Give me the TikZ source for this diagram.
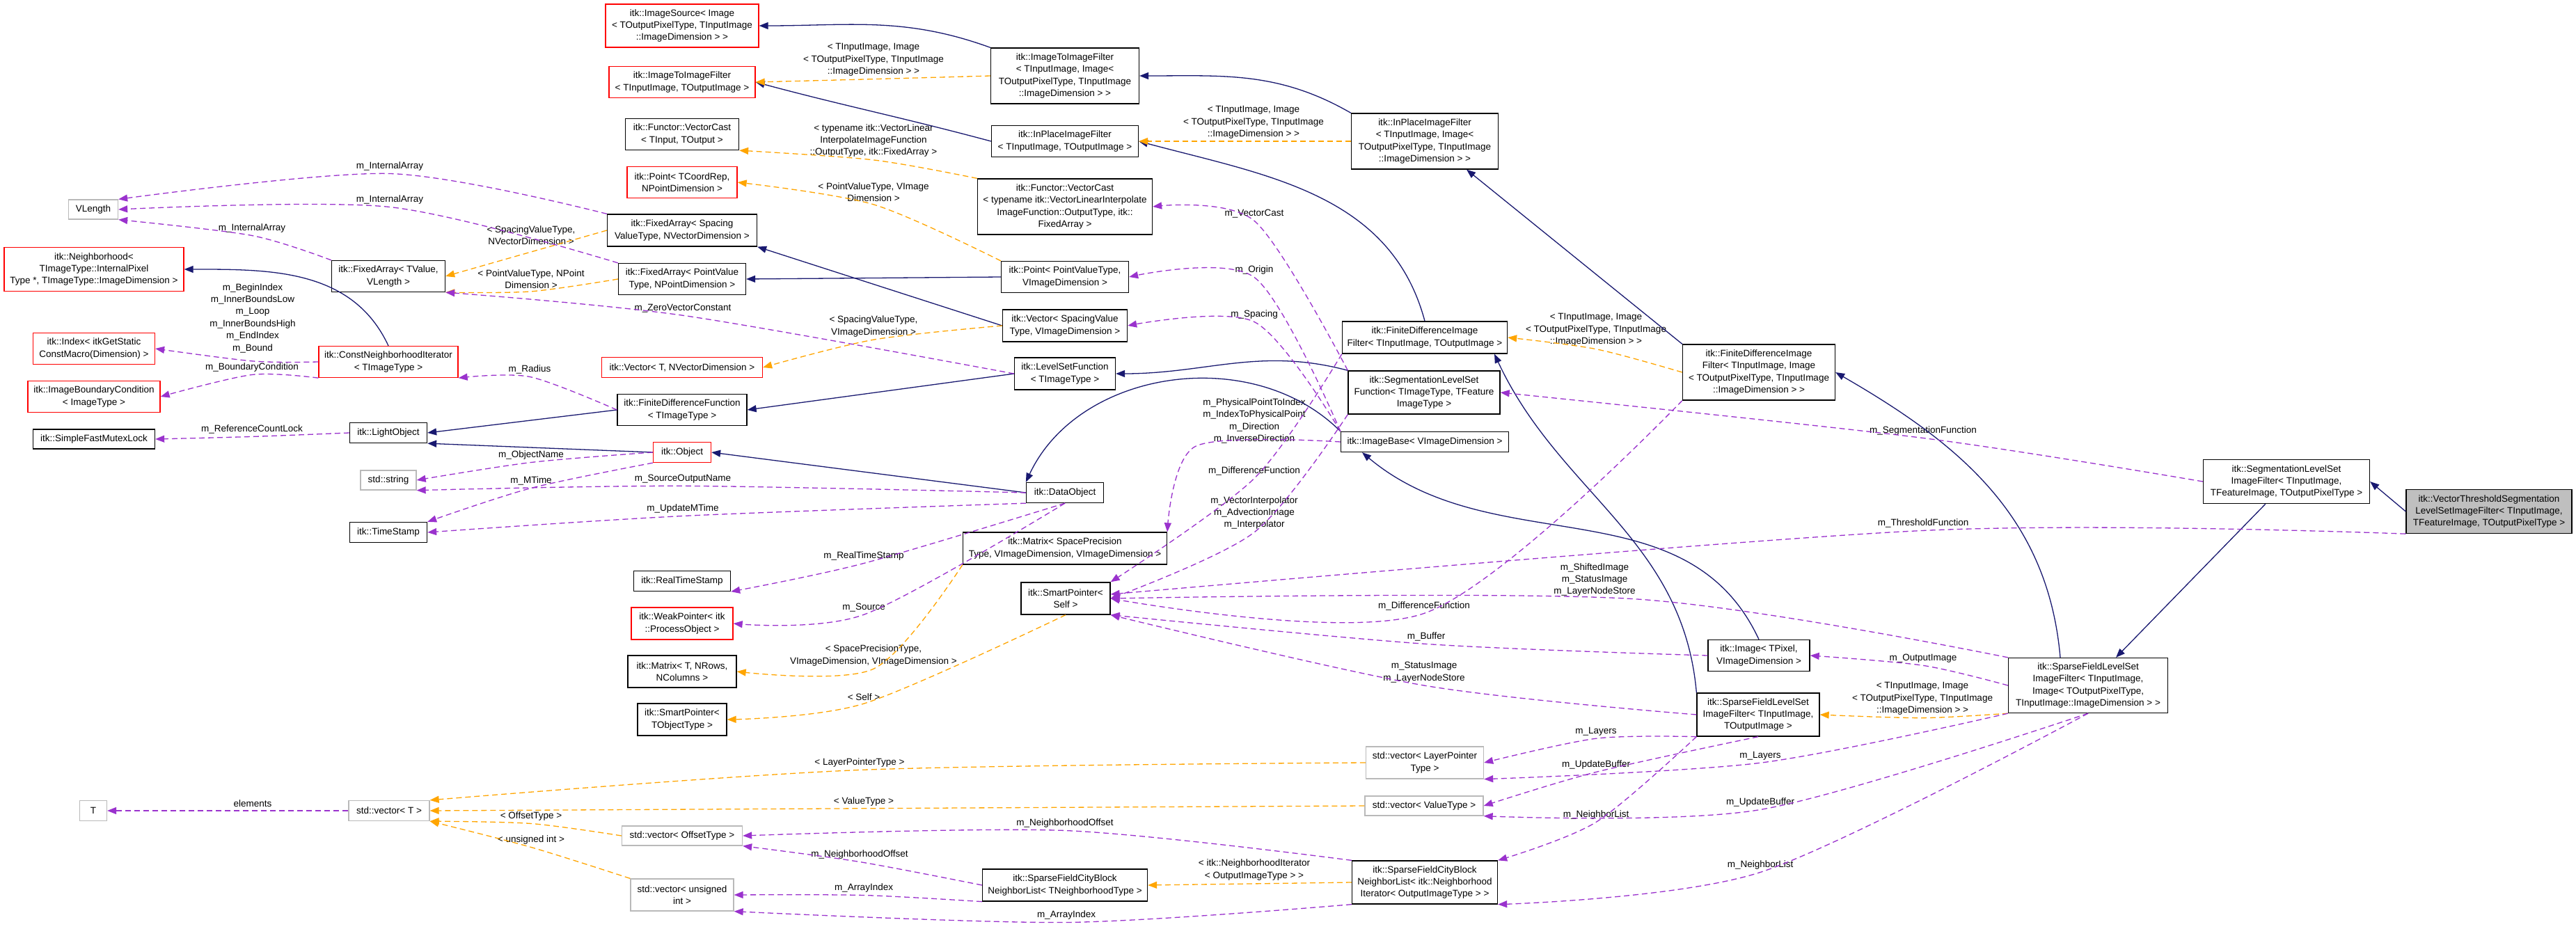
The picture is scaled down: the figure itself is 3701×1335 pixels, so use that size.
\documentclass[tikz,border=0pt]{standalone}
\usepackage{fontspec}
\setmainfont{Liberation Sans}
\usetikzlibrary{arrows.meta,calc}
\definecolor{navy}{RGB}{25,25,112}
\definecolor{orng}{RGB}{255,165,0}
\definecolor{purp}{RGB}{154,50,205}
\begin{document}
\begin{tikzpicture}[x=1pt,y=-1pt,
  box/.style={draw=black,line width=1.3pt,fill=white,align=center,inner sep=3pt,font=\fontsize{13.5}{17.4}\selectfont},
  rbox/.style={box,draw=red},
  gbox/.style={box,draw=gray!55},
  lbl/.style={align=center,inner xsep=1pt,inner ysep=4pt,font=\fontsize{13.5}{17.4}\selectfont},
  tip/.style={-{Triangle[length=13pt,width=10pt]}},
  inh/.style={tip,draw=navy,line width=1.3pt},
  tpl/.style={tip,draw=orng,line width=1.3pt,dash pattern=on 8pt off 5pt},
  use/.style={tip,draw=purp,line width=1.3pt,dash pattern=on 8pt off 5pt}]
\fill[white] (0,0) rectangle (3701,1335);
% nodes
\node[rbox,minimum width=220,minimum height=62] (isrc) at (980,37) {itk::ImageSource< Image\\< TOutputPixelType, TInputImage\\::ImageDimension > >};
\node[rbox,minimum width=210,minimum height=45] (i2i) at (980,118) {itk::ImageToImageFilter\\< TInputImage, TOutputImage >};
\node[box,minimum width=163,minimum height=45] (vc1) at (980,193) {itk::Functor::VectorCast\\< TInput, TOutput >};
\node[rbox,minimum width=158,minimum height=45] (pt1) at (980,262) {itk::Point< TCoordRep,\\NPointDimension >};
\node[gbox,minimum width=71,minimum height=28] (vlen) at (134,301) {VLength};
\node[box,minimum width=215,minimum height=46] (fas) at (980,331) {itk::FixedArray< Spacing\\ValueType, NVectorDimension >};
\node[rbox,minimum width=258,minimum height=63] (nbh) at (135,387) {itk::Neighborhood<\\TImageType::InternalPixel\\Type *, TImageType::ImageDimension >};
\node[box,minimum width=163,minimum height=45] (fat) at (558,397) {itk::FixedArray< TValue,\\VLength >};
\node[box,minimum width=183,minimum height=45] (fap) at (980,401) {itk::FixedArray< PointValue\\Type, NPointDimension >};
\node[rbox,minimum width=175,minimum height=45] (idx) at (135,501) {itk::Index< itkGetStatic\\ConstMacro(Dimension) >};
\node[rbox,minimum width=200,minimum height=45] (cni) at (558,520) {itk::ConstNeighborhoodIterator\\< TImageType >};
\node[rbox,minimum width=231,minimum height=29] (vec1) at (980,528) {itk::Vector< T, NVectorDimension >};
\node[rbox,minimum width=190,minimum height=45] (ibc) at (135,570) {itk::ImageBoundaryCondition\\< ImageType >};
\node[box,minimum width=186,minimum height=45] (fdf) at (980,589) {itk::FiniteDifferenceFunction\\< TImageType >};
\node[box,minimum width=175,minimum height=28] (sfm) at (135,631) {itk::SimpleFastMutexLock};
\node[box,minimum width=111,minimum height=29] (lo) at (558,622) {itk::LightObject};
\node[rbox,minimum width=83,minimum height=29] (obj) at (980,650) {itk::Object};
\node[gbox,minimum width=80,minimum height=28] (str) at (558,690) {std::string};
\node[box,minimum width=111,minimum height=29] (ts) at (558,765) {itk::TimeStamp};
\node[box,minimum width=139,minimum height=29] (rts) at (980,835) {itk::RealTimeStamp};
\node[rbox,minimum width=146,minimum height=46] (wp) at (980,896) {itk::WeakPointer< itk\\::ProcessObject >};
\node[box,minimum width=156,minimum height=46] (mat1) at (980,965) {itk::Matrix< T, NRows,\\NColumns >};
\node[box,minimum width=128,minimum height=46] (sp1) at (980,1034) {itk::SmartPointer<\\TObjectType >};
\node[gbox,minimum width=39,minimum height=29] (T) at (134,1165) {T};
\node[gbox,minimum width=116,minimum height=29] (vT) at (559,1165) {std::vector< T >};
\node[gbox,minimum width=173,minimum height=28] (vOff) at (980,1201) {std::vector< OffsetType >};
\node[gbox,minimum width=148,minimum height=46] (vUI) at (980,1286) {std::vector< unsigned\\int >};
\node[box,minimum width=213,minimum height=80] (i2i2) at (1530,109) {itk::ImageToImageFilter\\< TInputImage, Image<\\TOutputPixelType, TInputImage\\::ImageDimension > >};
\node[box,minimum width=211,minimum height=45] (ipf1) at (1530,203) {itk::InPlaceImageFilter\\< TInputImage, TOutputImage >};
\node[box,minimum width=251,minimum height=80] (vc2) at (1530,297) {itk::Functor::VectorCast\\< typename itk::VectorLinearInterpolate\\ImageFunction::OutputType, itk::\\FixedArray >};
\node[box,minimum width=183,minimum height=45] (pt2) at (1530,398) {itk::Point< PointValueType,\\VImageDimension >};
\node[box,minimum width=179,minimum height=46] (vec2) at (1530,468) {itk::Vector< SpacingValue\\Type, VImageDimension >};
\node[box,minimum width=145,minimum height=46] (lsf) at (1530,537) {itk::LevelSetFunction\\< TImageType >};
\node[box,minimum width=111,minimum height=29] (dobj) at (1530,708) {itk::DataObject};
\node[box,minimum width=293,minimum height=46] (mat2) at (1530,788) {itk::Matrix< SpacePrecision\\Type, VImageDimension, VImageDimension >};
\node[box,minimum width=128,minimum height=46] (sp2) at (1531,860) {itk::SmartPointer<\\Self >};
\node[box,minimum width=237,minimum height=46] (cb1) at (1530,1272) {itk::SparseFieldCityBlock\\NeighborList< TNeighborhoodType >};
\node[box,minimum width=211,minimum height=80] (ipf2) at (2047,203) {itk::InPlaceImageFilter\\< TInputImage, Image<\\TOutputPixelType, TInputImage\\::ImageDimension > >};
\node[box,minimum width=237,minimum height=46] (fdif1) at (2047,485) {itk::FiniteDifferenceImage\\Filter< TInputImage, TOutputImage >};
\node[box,minimum width=218,minimum height=62] (slsf) at (2046,564) {itk::SegmentationLevelSet\\Function< TImageType, TFeature\\ImageType >};
\node[box,minimum width=241,minimum height=29] (ib) at (2047,635) {itk::ImageBase< VImageDimension >};
\node[gbox,minimum width=169,minimum height=46] (vLP) at (2047,1096) {std::vector< LayerPointer\\Type >};
\node[gbox,minimum width=170,minimum height=28] (vVT) at (2046,1158) {std::vector< ValueType >};
\node[box,minimum width=209,minimum height=62] (cb2) at (2047,1268) {itk::SparseFieldCityBlock\\NeighborList< itk::Neighborhood\\Iterator< OutputImageType > >};
\node[box,minimum width=219,minimum height=80] (fdif2) at (2527,535) {itk::FiniteDifferenceImage\\Filter< TInputImage, Image\\< TOutputPixelType, TInputImage\\::ImageDimension > >};
\node[box,minimum width=146,minimum height=45] (img) at (2527,942) {itk::Image< TPixel,\\VImageDimension >};
\node[box,minimum width=176,minimum height=62] (sfl1) at (2526,1027) {itk::SparseFieldLevelSet\\ImageFilter< TInputImage,\\TOutputImage >};
\node[box,minimum width=229,minimum height=79] (sfl2) at (3000,985) {itk::SparseFieldLevelSet\\ImageFilter< TInputImage,\\Image< TOutputPixelType,\\TInputImage::ImageDimension > >};
\node[box,minimum width=239,minimum height=63] (slsif) at (3285,692) {itk::SegmentationLevelSet\\ImageFilter< TInputImage,\\TFeatureImage, TOutputPixelType >};
\node[box,fill=gray!50,minimum width=238,minimum height=63] (vts) at (3576,735) {itk::VectorThresholdSegmentation\\LevelSetImageFilter< TInputImage,\\TFeatureImage, TOutputPixelType >};
% template labels
\node[lbl] (la1) at (1255,86) {< TInputImage, Image\\< TOutputPixelType, TInputImage\\::ImageDimension > >};
\node[lbl] (la2) at (1801,176) {< TInputImage, Image\\< TOutputPixelType, TInputImage\\::ImageDimension > >};
\node[lbl] (la3) at (1255,202) {< typename itk::VectorLinear\\InterpolateImageFunction\\::OutputType, itk::FixedArray >};
\node[lbl] (la4) at (1255,276) {< PointValueType, VImage\\Dimension >};
\node[lbl] (la5) at (763,338) {< SpacingValueType,\\NVectorDimension >};
\node[lbl] (la6) at (763,401) {< PointValueType, NPoint\\Dimension >};
\node[lbl] (la7) at (1255,469) {< SpacingValueType,\\VImageDimension >};
\node[lbl] (la8) at (2293,474) {< TInputImage, Image\\< TOutputPixelType, TInputImage\\::ImageDimension > >};
\node[lbl] (la9) at (1255,942) {< SpacePrecisionType,\\VImageDimension, VImageDimension >};
\node[lbl] (la10) at (1241,1002) {< Self >};
\node[lbl] (la11) at (1235,1096) {< LayerPointerType >};
\node[lbl] (la12) at (1241,1152) {< ValueType >};
\node[lbl] (la13) at (763,1173) {< OffsetType >};
\node[lbl] (la14) at (763,1207) {< unsigned int >};
\node[lbl] (la15) at (1802,1250) {< itk::NeighborhoodIterator\\< OutputImageType > >};
\node[lbl] (la16) at (2762,1004) {< TInputImage, Image\\< TOutputPixelType, TInputImage\\::ImageDimension > >};
% usage labels
\node[lbl] (lb1) at (560,239) {m\_InternalArray};
\node[lbl] (lb2) at (560,287) {m\_InternalArray};
\node[lbl] (lb3) at (362,328) {m\_InternalArray};
\node[lbl] (lb4) at (363,457) {m\_BeginIndex\\m\_InnerBoundsLow\\m\_Loop\\m\_InnerBoundsHigh\\m\_EndIndex\\m\_Bound};
\node[lbl] (lb5) at (362,528) {m\_BoundaryCondition};
\node[lbl] (lb6) at (761,531) {m\_Radius};
\node[lbl] (lb7) at (362,617) {m\_ReferenceCountLock};
\node[lbl] (lb8) at (763,654) {m\_ObjectName};
\node[lbl] (lb9) at (763,691) {m\_MTime};
\node[lbl] (lb10) at (981,688) {m\_SourceOutputName};
\node[lbl] (lb11) at (981,731) {m\_UpdateMTime};
\node[lbl] (lb12) at (1241,799) {m\_RealTimeStamp};
\node[lbl] (lb13) at (1241,873) {m\_Source};
\node[lbl] (lb14) at (981,443) {m\_ZeroVectorConstant};
\node[lbl] (lb15) at (1802,307) {m\_VectorCast};
\node[lbl] (lb16) at (1802,388) {m\_Origin};
\node[lbl] (lb17) at (1802,452) {m\_Spacing};
\node[lbl] (lb18) at (1802,605) {m\_PhysicalPointToIndex\\m\_IndexToPhysicalPoint\\m\_Direction\\m\_InverseDirection};
\node[lbl] (lb19) at (1802,677) {m\_DifferenceFunction};
\node[lbl] (lb20) at (1802,737) {m\_VectorInterpolator\\m\_AdvectionImage\\m\_Interpolator};
\node[lbl] (lb21) at (2763,752) {m\_ThresholdFunction};
\node[lbl] (lb22) at (2763,619) {m\_SegmentationFunction};
\node[lbl] (lb23) at (2291,833) {m\_ShiftedImage\\m\_StatusImage\\m\_LayerNodeStore};
\node[lbl] (lb24) at (2046,871) {m\_DifferenceFunction};
\node[lbl] (lb25) at (2049,915) {m\_Buffer};
\node[lbl] (lb26) at (2046,966) {m\_StatusImage\\m\_LayerNodeStore};
\node[lbl] (lb27) at (2763,946) {m\_OutputImage};
\node[lbl] (lb28) at (2293,1051) {m\_Layers};
\node[lbl] (lb29) at (2529,1086) {m\_Layers};
\node[lbl] (lb30) at (2293,1099) {m\_UpdateBuffer};
\node[lbl] (lb31) at (2529,1153) {m\_UpdateBuffer};
\node[lbl] (lb32) at (2293,1171) {m\_NeighborList};
\node[lbl] (lb33) at (2529,1243) {m\_NeighborList};
\node[lbl] (lb34) at (1530,1183) {m\_NeighborhoodOffset};
\node[lbl] (lb35) at (1235,1228) {m\_NeighborhoodOffset};
\node[lbl] (lb36) at (1241,1276) {m\_ArrayIndex};
\node[lbl] (lb37) at (1532,1315) {m\_ArrayIndex};
\node[lbl] (lb38) at (363,1155) {elements};
% inheritance
\draw[inh] (i2i2.north west) to[out=160,in=0] (isrc.east);
\draw[inh] (ipf1.west) to[out=165,in=-15] (i2i.east);
\draw[inh] (ipf2.north west) to[out=150,in=0] (i2i2.east);
\draw[inh] (pt2.west) -- (fap.east);
\draw[inh] (vec2.west) -- (fas.south east);
\draw[inh] (cni.north) to[out=115,in=0] (nbh.east);
\draw[inh] (fdf.west) -- (lo.east);
\draw[inh] (obj.west) -- (lo.south east);
\draw[inh] (lsf.west) -- (fdf.east);
\draw[inh] (dobj.west) -- (obj.east);
\draw[inh] (fdif1.north) to[out=105,in=-15] (ipf1.east);
\draw[inh] (fdif2.north west) -- ($(ipf2.south)+(60,0)$);
\draw[inh] (slsf.north west) to[out=165,in=0] (lsf.east);
\draw[inh] (ib.north west) to[out=135,in=65] (dobj.north west);
\draw[inh] (img.north) to[out=115,in=-40] ($(ib.south)+(-90,0)$);
\draw[inh] (sfl1.north west) to[out=95,in=-65] ($(fdif1.south)+(100,0)$);
\draw[inh] ($(sfl2.north)+(-40,0)$) to[out=95,in=-30] (fdif2.east);
\draw[inh] ($(slsif.south west)+(90,0)$) -- ($(sfl2.north)+(40,0)$);
\draw[inh] (vts.west) -- (slsif.east);
% template instantiations
\draw[tpl] plot[smooth] coordinates {(i2i2.west) (la1.south) (i2i.east)};
\draw[tpl] (ipf2.west) -- (ipf1.east);
\draw[tpl] plot[smooth] coordinates {(vc2.north west) (la3.south) (vc1.south east)};
\draw[tpl] plot[smooth] coordinates {(pt2.north west) (la4.south) (pt1.east)};
\draw[tpl] (fas.west) -- (fat.east);
\draw[tpl] plot[smooth] coordinates {(fap.west) (la6.south) (fat.south east)};
\draw[tpl] plot[smooth] coordinates {(vec2.west) (la7.south) (vec1.east)};
\draw[tpl] plot[smooth] coordinates {(fdif2.west) (la8.south) (fdif1.east)};
\draw[tpl] plot[smooth] coordinates {(mat2.south west) (la9.south) (mat1.east)};
\draw[tpl] plot[smooth] coordinates {(sp2.south) (la10.south) (sp1.east)};
\draw[tpl] plot[smooth] coordinates {(vLP.west) (la11.south) (vT.north east)};
\draw[tpl] (vVT.west) -- (vT.east);
\draw[tpl] plot[smooth] coordinates {(vOff.west) (la13.south) (vT.south east)};
\draw[tpl] plot[smooth] coordinates {(vUI.north west) (la14.south) (vT.south east)};
\draw[tpl] (cb2.west) -- (cb1.east);
\draw[tpl] plot[smooth] coordinates {(sfl2.south west) (la16.south) (sfl1.east)};
% usage
\draw[use] plot[smooth] coordinates {(fas.north west) (lb1.south) (vlen.north east)};
\draw[use] plot[smooth] coordinates {(fap.north west) (lb2.south) (vlen.east)};
\draw[use] plot[smooth] coordinates {(fat.north west) (lb3.south) (vlen.south east)};
\draw[use] plot[smooth] coordinates {(cni.west) ($(lb4.south)+(0,8)$) (idx.east)};
\draw[use] plot[smooth] coordinates {(cni.south west) (lb5.south) (ibc.east)};
\draw[use] plot[smooth] coordinates {(fdf.west) (lb6.south) (cni.south east)};
\draw[use] plot[smooth] coordinates {(lo.west) (lb7.south) (sfm.east)};
\draw[use] plot[smooth] coordinates {(obj.west) (lb8.south) (str.east)};
\draw[use] plot[smooth] coordinates {(obj.south west) (lb9.south) (ts.north east)};
\draw[use] plot[smooth] coordinates {(dobj.west) (lb10.south) (str.south east)};
\draw[use] plot[smooth] coordinates {(dobj.south west) (lb11.south) (ts.east)};
\draw[use] plot[smooth] coordinates {(dobj.south) (lb12.south) (rts.south east)};
\draw[use] plot[smooth] coordinates {(dobj.south) (lb13.south) (wp.east)};
\draw[use] plot[smooth] coordinates {(lsf.west) (lb14.south) (fat.south east)};
\draw[use] plot[smooth] coordinates {(slsf.north west) (lb15.south) (vc2.east)};
\draw[use] plot[smooth] coordinates {(ib.north west) (lb16.south) (pt2.east)};
\draw[use] plot[smooth] coordinates {(ib.north west) (lb17.south) (vec2.east)};
\draw[use] plot[smooth] coordinates {(ib.west) ($(lb18.south west)+(-10,0)$) (mat2.north east)};
\draw[use] plot[smooth] coordinates {(fdif1.south west) (lb19.south) (sp2.north east)};
\draw[use] plot[smooth] coordinates {(slsf.south west) (lb20.south) (sp2.east)};
\draw[use] plot[smooth] coordinates {(vts.south west) (lb21.south) ($(sp2.east)+(0,-6)$)};
\draw[use] plot[smooth] coordinates {(slsif.west) (lb22.south) (slsf.east)};
\draw[use] plot[smooth] coordinates {(sfl2.north west) (lb23.south east) (sp2.east)};
\draw[use] plot[smooth] coordinates {(fdif2.south west) (lb24.south) (sp2.east)};
\draw[use] plot[smooth] coordinates {(img.west) (lb25.south) (sp2.south east)};
\draw[use] plot[smooth] coordinates {(sfl1.west) (lb26.south) (sp2.south east)};
\draw[use] plot[smooth] coordinates {(sfl2.west) (lb27.south) (img.east)};
\draw[use] plot[smooth] coordinates {(sfl1.south west) (lb28.south) (vLP.east)};
\draw[use] plot[smooth] coordinates {(sfl2.south west) (lb29.south) (vLP.south east)};
\draw[use] plot[smooth] coordinates {(sfl1.south) (lb30.south) (vVT.east)};
\draw[use] plot[smooth] coordinates {(sfl2.south) (lb31.south) (vVT.south east)};
\draw[use] plot[smooth] coordinates {(sfl1.south west) (lb32.south) (cb2.north east)};
\draw[use] plot[smooth] coordinates {(sfl2.south) (lb33.south) (cb2.south east)};
\draw[use] plot[smooth] coordinates {(cb2.north west) (lb34.south) (vOff.east)};
\draw[use] plot[smooth] coordinates {(cb1.west) (lb35.south) (vOff.south east)};
\draw[use] plot[smooth] coordinates {(cb1.south west) (lb36.south) (vUI.east)};
\draw[use] plot[smooth] coordinates {(cb2.south west) (lb37.south) (vUI.south east)};
\draw[use] (vT.west) -- (T.east);
\end{tikzpicture}
\end{document}
